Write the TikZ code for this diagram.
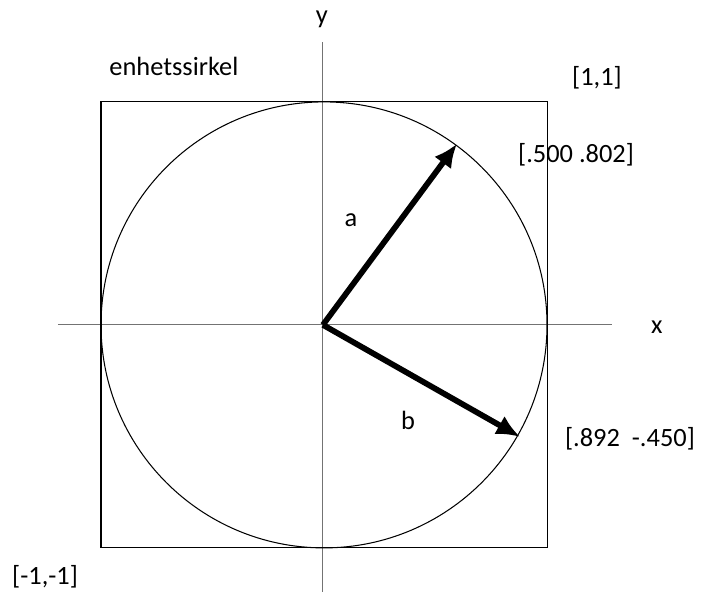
\documentclass[tikz,border=0pt]{standalone}
\usepackage{fontspec}
\setmainfont{Carlito}
\usetikzlibrary{arrows.meta}
\begin{document}
\begin{tikzpicture}[
        x=3cm, y=3cm,
        axis/.style={draw=black!55, thin},
        frame/.style={draw, thin},
        vec/.style={draw, line width=2.2pt, -{Latex[length=9pt,width=8pt]}},
        every node/.style={font=\fontsize{10.1}{12}\selectfont, inner sep=0pt},
    ]
    \useasboundingbox (-1.453,-1.215) rectangle (1.695,1.457);
    % axes
    \coordinate (xl) at (-1.193,0);
    \coordinate (xr) at (1.291,0);
    \coordinate (yb) at (-0.005,-1.197);
    \coordinate (yt) at (-0.005,1.269);
    \draw[axis] (xl) -- (xr);
    \draw[axis] (yb) -- (yt);
    % square and circle
    \coordinate (o) at (0,0);
    \draw[frame] (-1,-1) rectangle (1,1);
    \draw[frame] (o) circle (1);
    % vectors
    \coordinate (o2) at (-0.005,0);
    \coordinate (pa) at (0.596,0.812);
    \coordinate (pb) at (0.879,-0.502);
    \draw[vec] (o2) -- (pa);
    \draw[vec] (o2) -- (pb);
    % labels
    \node (ylab) at (-0.01,1.37) {y};
    \node (xlab) at (1.492,-0.01) {x};
    \node (title) at (-0.673,1.161) {enhetssirkel};
    \node (c11) at (1.224,1.108) {[1,1]};
    \node (lpa) at (1.130,0.762) {[.500 .802]};
    \node (la) at (0.121,0.470) {a};
    \node (lb) at (0.377,-0.430) {b};
    \node (lpb) at (1.372,-0.511) {[.892\ \ -.450]};
    \node (cm1) at (-1.251,-1.130) {[-1,-1]};
\end{tikzpicture}
\end{document}
